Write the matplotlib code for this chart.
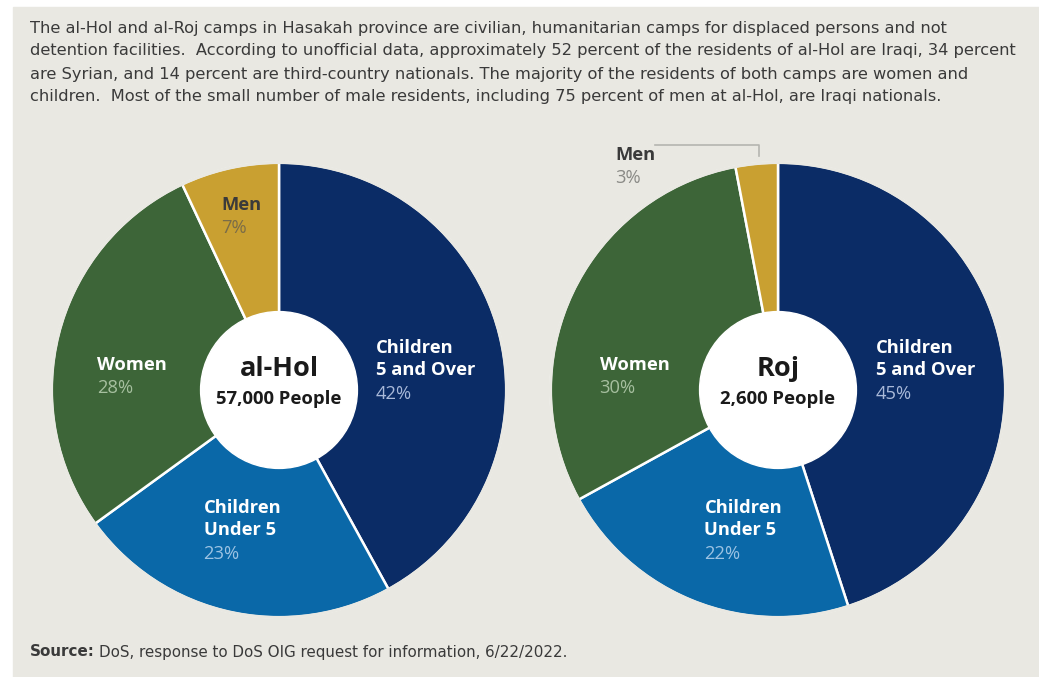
import matplotlib
matplotlib.use('Agg')
from matplotlib import pyplot as plt
from matplotlib.patches import Circle, Rectangle

# Data
# ----
categories = ['Children\n5 and Over', 'Children\nUnder 5', 'Women', 'Men']
alhol_pct = [42, 23, 28, 7]
roj_pct = [45, 22, 30, 3]
camps = ['al-Hol', 'Roj']
people = ['57,000 People', '2,600 People']

intro = ["The al-Hol and al-Roj camps in Hasakah province are civilian, humanitarian camps for displaced persons and not",
         "detention facilities.  According to unofficial data, approximately 52 percent of the residents of al-Hol are Iraqi, 34 percent",
         "are Syrian, and 14 percent are third-country nationals. The majority of the residents of both camps are women and",
         "children.  Most of the small number of male residents, including 75 percent of men at al-Hol, are Iraqi nationals."]
source = "DoS, response to DoS OIG request for information, 6/22/2022."

cols = ['#0b2c66', '#0a68a8', '#3d6538', '#c9a031']
pctcols = ['#a9b9d9', '#9cc3e3', '#a6bf9f', '#7a6c48']
bg = '#e9e8e2'

body_font = 'DejaVu Sans'
lab_font = 'Open Sans'

W, H = 1039, 677
fig = plt.figure(figsize=(W/100, H/100), dpi=100)
fig.patch.set_facecolor('white')
bgax = fig.add_axes([0, 0, 1, 1])
bgax.set_xlim(0, W)
bgax.set_ylim(H, 0)
bgax.axis('off')
bgax.add_patch(Rectangle((13, 7), W-13, H-7, color=bg, zorder=0))

# intro text
for i, line in enumerate(intro):
    bgax.text(30, 28 + i*23, line, fontsize=11.7, family=body_font, color='#3a3a3a', va='center', ha='left')

t1 = bgax.text(30, 652, 'Source:', fontsize=10.9, family=body_font, weight='bold', color='#3a3a3a', va='center')
bgax.annotate(source, xy=(1, 0.5), xycoords=t1, xytext=(3, 0), textcoords='offset points',
              fontsize=10.9, family=body_font, color='#3a3a3a', va='center', ha='left')

R = 232.
hole = 80.

def px(cx, cy, x, y):
    return (x - cx)/R, (cy - y)/R

def draw_pie(cx, cy, vals, camp, ppl, labpos, mencol):
    ax = fig.add_axes([(cx - R)/W, (H - cy - R)/H, 2*R/W, 2*R/H])
    ax.pie(vals, colors=cols, startangle=90, counterclock=False,
           wedgeprops=dict(edgecolor='white', linewidth=1.8))
    # hide the white rim on the outside
    ax.add_patch(Circle((0, 0), 1.0, fill=False, edgecolor=bg, lw=2.2, zorder=4))
    ax.add_patch(Circle((0, 0), hole/R, color='white', zorder=5))
    ax.set_xlim(-1.02, 1.02)
    ax.set_ylim(-1.02, 1.02)
    ax.set_aspect('auto')
    ax.axis('off')
    ax.text(0, px(cx, cy, cx, 369)[1], camp, ha='center', va='center', fontsize=19.5,
            weight='bold', family=lab_font, color='#1a1a1a', zorder=6)
    ax.text(0, px(cx, cy, cx, 399)[1], ppl, ha='center', va='center', fontsize=13.3,
            weight='bold', family=lab_font, color='#1a1a1a', zorder=6)
    for k, (lab, v) in enumerate(zip(categories, vals)):
        x0, y0 = labpos[k]
        lines = lab.split('\n')
        tcol = '#3a3a3a' if k == 3 else 'white'
        for j, l in enumerate(lines):
            xx, yy = px(cx, cy, x0, y0 + j*23)
            ax.text(xx, yy, l, fontsize=13.2, weight='bold', family=lab_font, color=tcol,
                    va='center', ha='left', zorder=6, clip_on=False)
        xx, yy = px(cx, cy, x0, y0 + len(lines)*23.5)
        pc = mencol if k == 3 else pctcols[k]
        ax.text(xx, yy, str(v) + '%', fontsize=13.2, family=lab_font, color=pc,
                va='center', ha='left', zorder=6, clip_on=False)
    return ax

draw_pie(279, 390, alhol_pct, camps[0], people[0],
         [(378, 347), (202, 510), (93, 364), (220, 201)], '#7a6c48')
draw_pie(778, 390, roj_pct, camps[1], people[1],
         [(878, 347), (703, 510), (596, 364), (612, 150)], '#8a8a86')

# leader line for Roj men
bgax.plot([655, 759, 759], [145, 145, 156], color='#b5b5b0', lw=1.2, zorder=1)

plt.savefig('out.png', dpi=100, facecolor=fig.get_facecolor())
